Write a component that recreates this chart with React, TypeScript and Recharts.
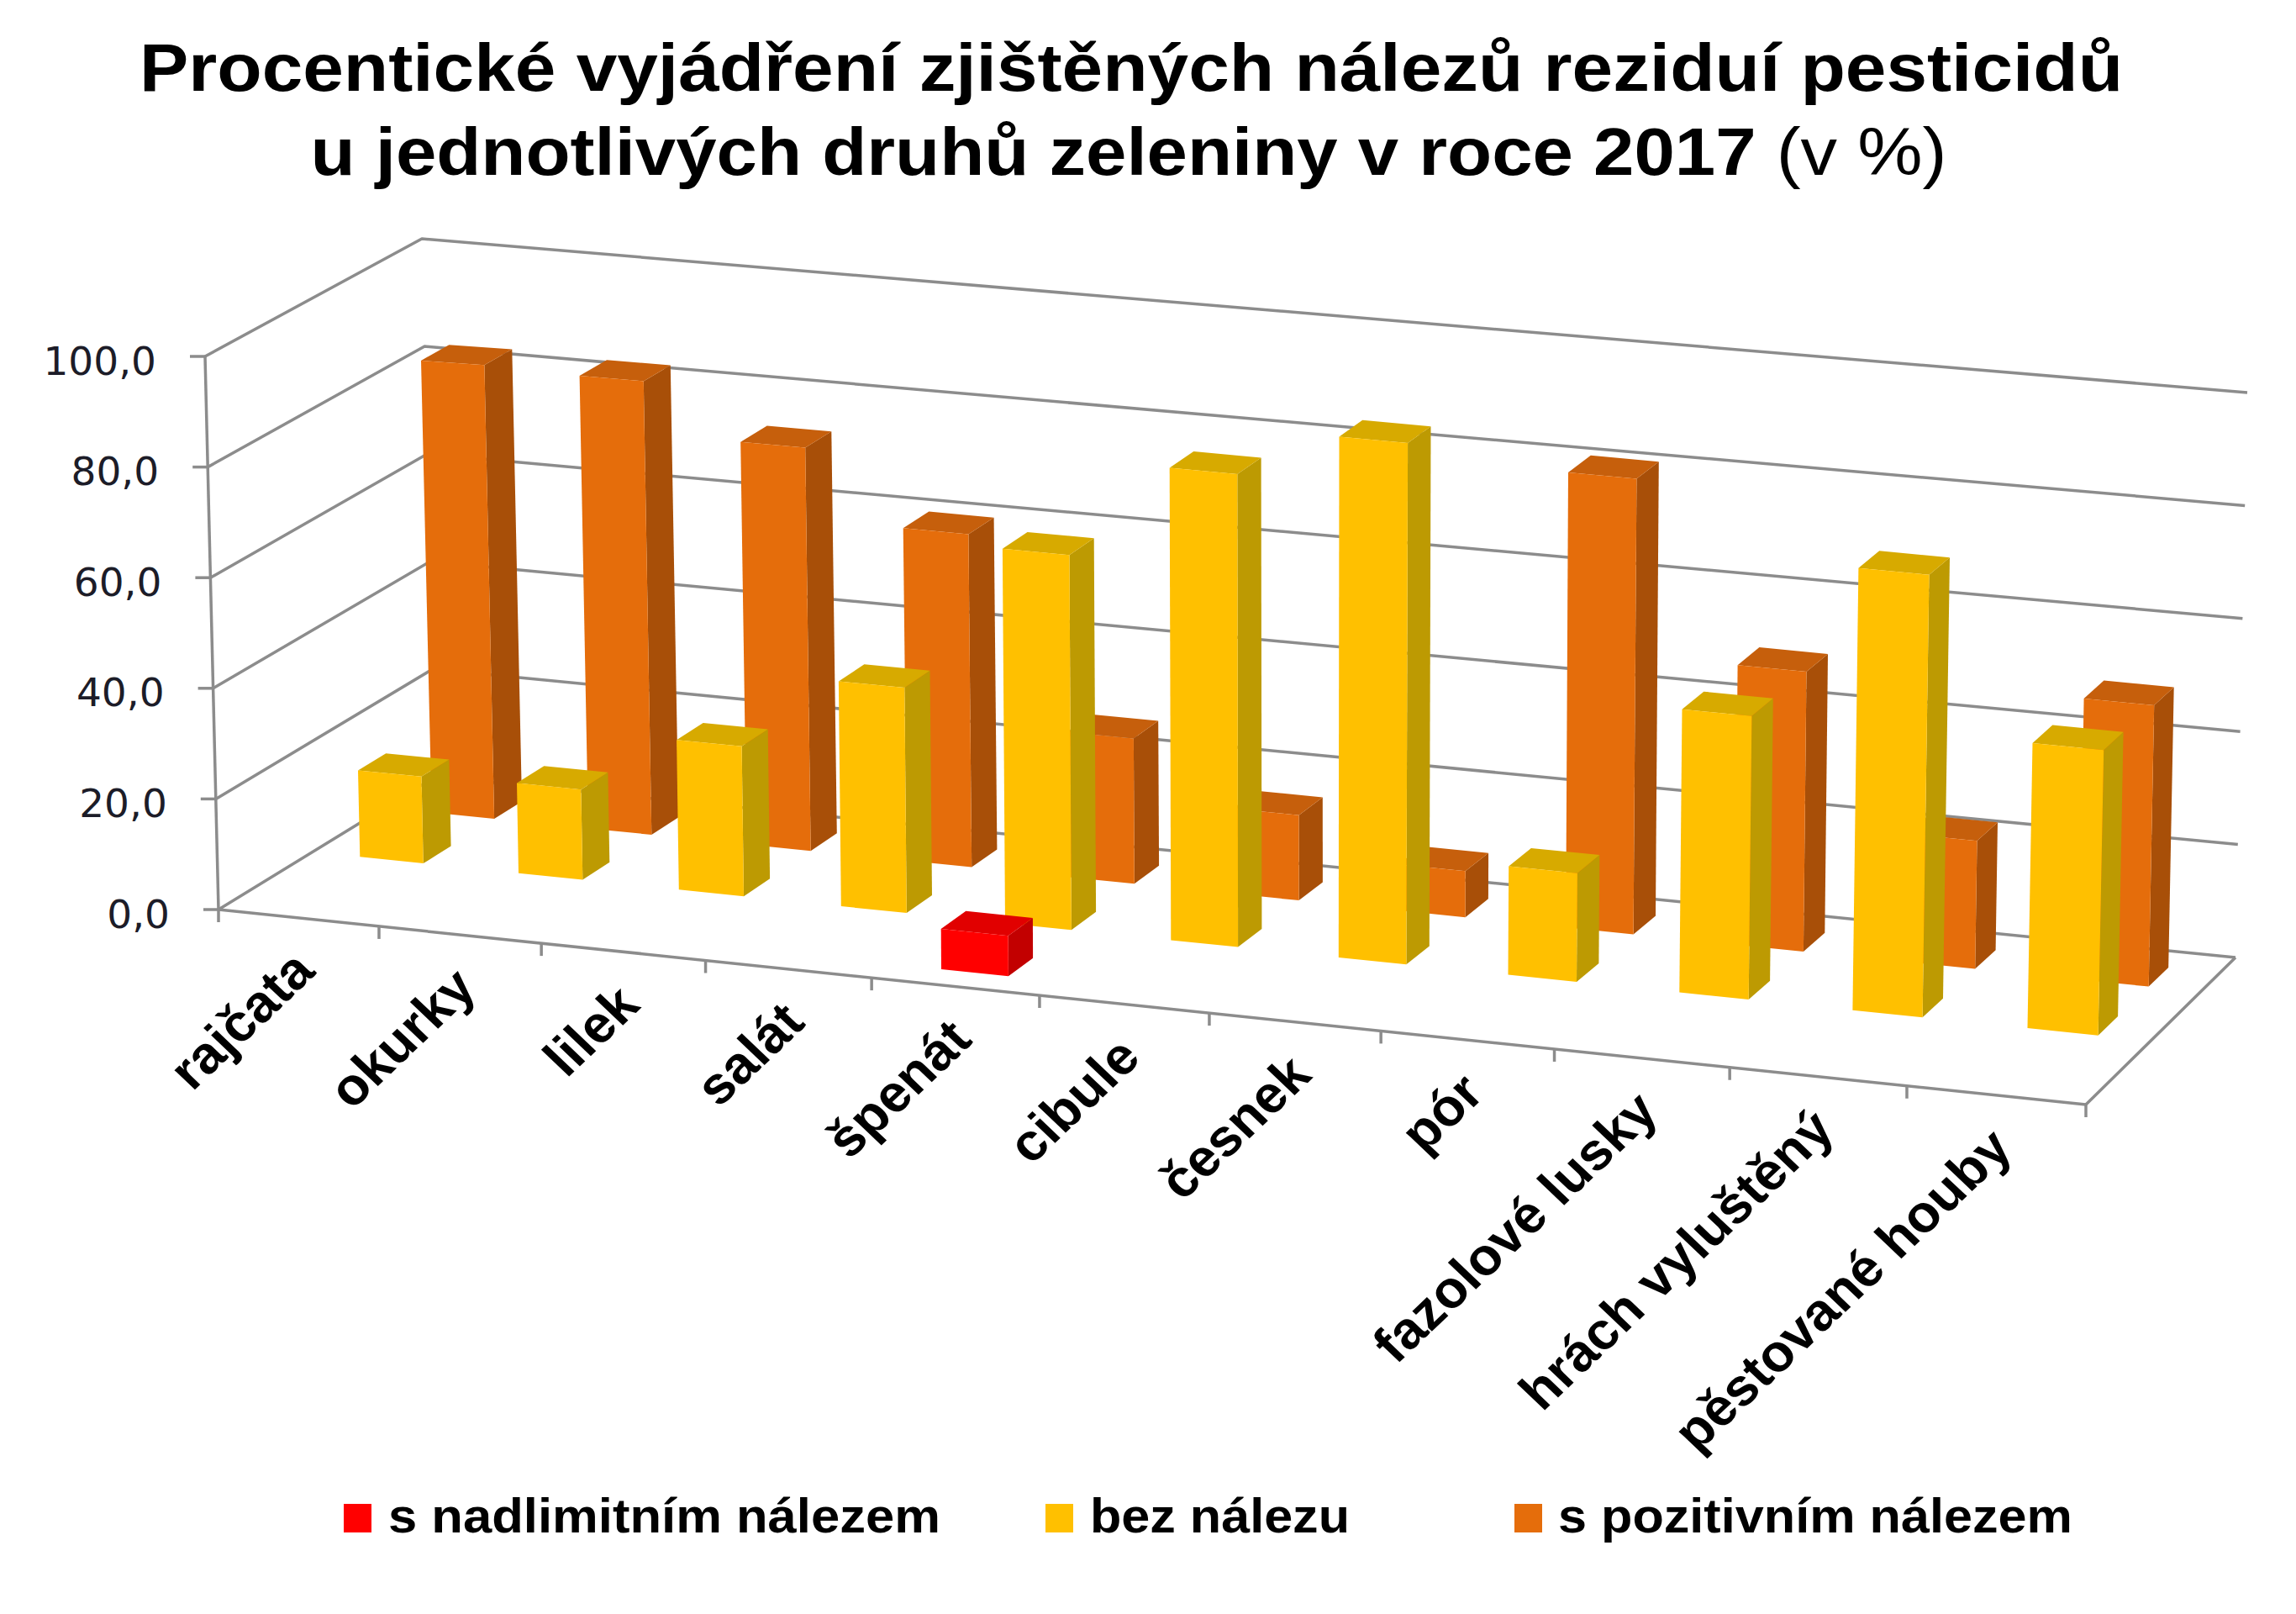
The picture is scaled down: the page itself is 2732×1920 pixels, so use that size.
import React from 'react';
import { BarChart, Bar, XAxis, YAxis, CartesianGrid } from 'recharts';

// data (percent of samples)
const CATEGORIES = [
  'rajčata', 'okurky', 'lilek', 'salát', 'špenát', 'cibule',
  'česnek', 'pór', 'fazolové lusky', 'hrách vyluštěný', 'pěstované houby',
];
const NADLIMITNI = [0, 0, 0, 0, 7.1, 0, 0, 0, 0, 0, 0];
const BEZ_NALEZU = [15.7, 16.2, 26.8, 40.1, 66.5, 83.6, 91.9, 19.1, 49.7, 77.4, 49.8];
const POZITIVNI = [82.8, 82.2, 72.7, 59.8, 26.0, 15.2, 8.2, 80.8, 49.5, 22.6, 49.5];
const Y_TICKS = [0, 20, 40, 60, 80, 100];

const SERIES_NAMES = {
  nadlimitni: 's nadlimitním nálezem',
  bez: 'bez nálezu',
  pozitivni: 's pozitivním nálezem',
};

const data = CATEGORIES.map((name, i) => ({
  name,
  nadlimitni: NADLIMITNI[i],
  bez: BEZ_NALEZU[i],
  pozitivni: POZITIVNI[i],
}));

// colours of the three faces of each 3D column
const FACES = {
  nadlimitni: { front: '#FF0000', side: '#C20000', top: '#E10000' },
  bez: { front: '#FFC000', side: '#BD9A02', top: '#D7AA00' },
  pozitivni: { front: '#E56D0B', side: '#A84F08', top: '#C65F0C' },
};

const W = 2732;
const H = 1920;
const PLOT_L = 260;
const PLOT_R = 2482;
const PLOT_T = 424;
const PLOT_B = 1082;
const PLOT_W = PLOT_R - PLOT_L;
const PLOT_H = PLOT_B - PLOT_T;
const BAR_SIZE = Math.round((PLOT_W / CATEGORIES.length) * 0.4);
const GRID = '#8c8c8c';
const FONT = '"Liberation Sans", Arial, sans-serif';

// floor corners of the 3D box (front-left, front-right, back-right, back-left)
const FL = [260, 1082];
const FR = [2482, 1314];
const BR = [2660, 1139];
const BL = [518, 924];

// u: position along categories (0..1), t: depth (0 front .. 1 back), v: value
const P = (u: number, t: number, v: number) => {
  const s = u - 0.06 * u * (1 - u);
  const fx = FL[0] + (FR[0] - FL[0]) * s;
  const fy = FL[1] + (FR[1] - FL[1]) * s;
  const bx = BL[0] + (BR[0] - BL[0]) * s;
  const by = BL[1] + (BR[1] - BL[1]) * s;
  const x0 = fx + (bx - fx) * t;
  const y0 = fy + (by - fy) * t;
  const k = 6.4 + 0.32 * Math.sqrt(s) + 0.18 * (1 - t);
  const tilt = -0.16 + 0.3 * s;
  return [x0 + v * tilt, y0 - v * k];
};

const pts = (arr: number[][]) => arr.map((p) => `${p[0].toFixed(1)},${p[1].toFixed(1)}`).join(' ');

const make3D = (row: number, c: { front: string; side: string; top: string }) => (props: any) => {
  const { x, width, height } = props;
  if (!height || height <= 0.5) return <g />;
  const v = (height / PLOT_H) * 100;
  const u0 = (x - PLOT_L) / PLOT_W;
  const u1 = (x + width - PLOT_L) / PLOT_W;
  const t0 = row / 3 + 0.1;
  const t1 = t0 + 0.13;
  const a = P(u0, t0, 0);
  const b = P(u1, t0, 0);
  const cc = P(u1, t0, v);
  const d = P(u0, t0, v);
  const e = P(u1, t1, 0);
  const f = P(u1, t1, v);
  const g = P(u0, t1, v);
  return (
    <g>
      <polygon points={pts([b, e, f, cc])} fill={c.side} />
      <polygon points={pts([d, cc, f, g])} fill={c.top} />
      <polygon points={pts([a, b, cc, d])} fill={c.front} />
    </g>
  );
};

const WallLine = (p: any) => {
  const v = Math.round(((PLOT_B - p.y1) / PLOT_H) * 100);
  return (
    <polyline
      key={`wall-${v}`}
      points={pts([P(0, 0, v), P(0, 1, v), P(1, 1, v)])}
      fill="none"
      stroke={GRID}
      strokeWidth={3.5}
      strokeLinejoin="round"
    />
  );
};

const YTick = (props: any) => {
  const v = props.payload.value;
  const p = P(0, 0, v);
  return (
    <g>
      {v === 0 && (
        <line x1={p[0]} y1={p[1]} x2={P(0, 0, 100)[0]} y2={P(0, 0, 100)[1]} stroke={GRID} strokeWidth={3.5} />
      )}
      <line x1={p[0] - 18} y1={p[1]} x2={p[0]} y2={p[1]} stroke={GRID} strokeWidth={3.5} />
      <text
        x={p[0] - 58}
        y={p[1] + 5}
        textAnchor="end"
        dominantBaseline="central"
        fontFamily='"DejaVu Sans", Verdana, sans-serif'
        fontSize={47}
        fill="#1c1c28"
      >
        {v.toFixed(1).replace('.', ',')}
      </text>
    </g>
  );
};

const XTick = (props: any) => {
  const idx = props.payload?.index ?? props.index;
  const cx = props.payload?.coordinate ?? props.x;
  const n = CATEGORIES.length;
  const uc = (cx - PLOT_L) / PLOT_W;
  const f = P(uc, 0, 0);
  const ax = f[0] + 22;
  const ay = f[1] + 66;
  const bl = P(idx / n, 0, 0);
  const br = P((idx + 1) / n, 0, 0);
  return (
    <g>
      {idx === 0 && (
        <polyline
          points={pts([P(0, 0, 0), P(1, 0, 0), P(1, 1, 0)])}
          fill="none"
          stroke={GRID}
          strokeWidth={3.5}
          strokeLinejoin="round"
        />
      )}
      <line x1={bl[0]} y1={bl[1]} x2={bl[0]} y2={bl[1] + 15} stroke={GRID} strokeWidth={3.5} />
      {idx === n - 1 && <line x1={br[0]} y1={br[1]} x2={br[0]} y2={br[1] + 15} stroke={GRID} strokeWidth={3.5} />}
      <text
        transform={`translate(${ax.toFixed(1)},${ay.toFixed(1)}) scale(1.05,1) rotate(-45)`}
        textAnchor="end"
        fontFamily={FONT}
        fontWeight={700}
        fontSize={62}
        fill="#000"
      >
        {props.payload.value}
      </text>
    </g>
  );
};

const LEGEND = [
  { key: 'nadlimitni', box: 409, text: 462, len: 657 },
  { key: 'bez', box: 1244, text: 1297, len: 309 },
  { key: 'pozitivni', box: 1802, text: 1854, len: 612 },
];

export default function App() {
  return (
    <div style={{ position: 'absolute', left: 0, top: 0, width: W, height: H, background: '#fff' }}>
      <div style={{ position: 'absolute', left: 0, top: 0 }}>
        <BarChart
          width={W}
          height={H}
          data={data}
          margin={{ top: PLOT_T, right: W - PLOT_R, bottom: H - PLOT_B - 30, left: PLOT_L - 200 }}
          barSize={BAR_SIZE}
        >
          <CartesianGrid vertical={false} horizontal={WallLine} />
          <XAxis
            xAxisId={0}
            dataKey="name"
            height={30}
            interval={0}
            axisLine={false}
            tickLine={false}
            tick={XTick}
          />
          <XAxis xAxisId={1} dataKey="name" hide />
          <XAxis xAxisId={2} dataKey="name" hide />
          <YAxis
            width={200}
            type="number"
            domain={[0, 100]}
            ticks={Y_TICKS}
            interval={0}
            axisLine={false}
            tickLine={false}
            tick={YTick}
          />
          <Bar xAxisId={2} dataKey="pozitivni" name={SERIES_NAMES.pozitivni} barSize={BAR_SIZE} shape={make3D(2, FACES.pozitivni)} isAnimationActive={false} />
          <Bar xAxisId={1} dataKey="bez" name={SERIES_NAMES.bez} barSize={BAR_SIZE} shape={make3D(1, FACES.bez)} isAnimationActive={false} />
          <Bar xAxisId={0} dataKey="nadlimitni" name={SERIES_NAMES.nadlimitni} barSize={BAR_SIZE} shape={make3D(0, FACES.nadlimitni)} isAnimationActive={false} />
        </BarChart>
      </div>
      <svg width={W} height={H} style={{ position: 'absolute', left: 0, top: 0, pointerEvents: 'none' }}>
        <text
          x={1346}
          y={108}
          textAnchor="middle"
          fontFamily={FONT}
          fontWeight={700}
          fontSize={80}
          textLength={2360}
          lengthAdjust="spacingAndGlyphs"
        >
          Procentické vyjádření zjištěných nálezů reziduí pesticidů
        </text>
        <text
          x={1343}
          y={208}
          textAnchor="middle"
          fontFamily={FONT}
          fontSize={80}
          textLength={1947}
          lengthAdjust="spacingAndGlyphs"
        >
          <tspan fontWeight={700}>u jednotlivých druhů zeleniny v roce 2017</tspan>
          <tspan fontWeight={400}> (v %)</tspan>
        </text>
        {LEGEND.map((l) => (
          <g key={l.key}>
            <rect x={l.box} y={1789} width={33} height={34} fill={FACES[l.key as keyof typeof FACES].front} />
            <text
              x={l.text}
              y={1823}
              fontFamily={FONT}
              fontWeight={700}
              fontSize={58}
              textLength={l.len}
              lengthAdjust="spacingAndGlyphs"
            >
              {SERIES_NAMES[l.key as keyof typeof SERIES_NAMES]}
            </text>
          </g>
        ))}
      </svg>
    </div>
  );
}
